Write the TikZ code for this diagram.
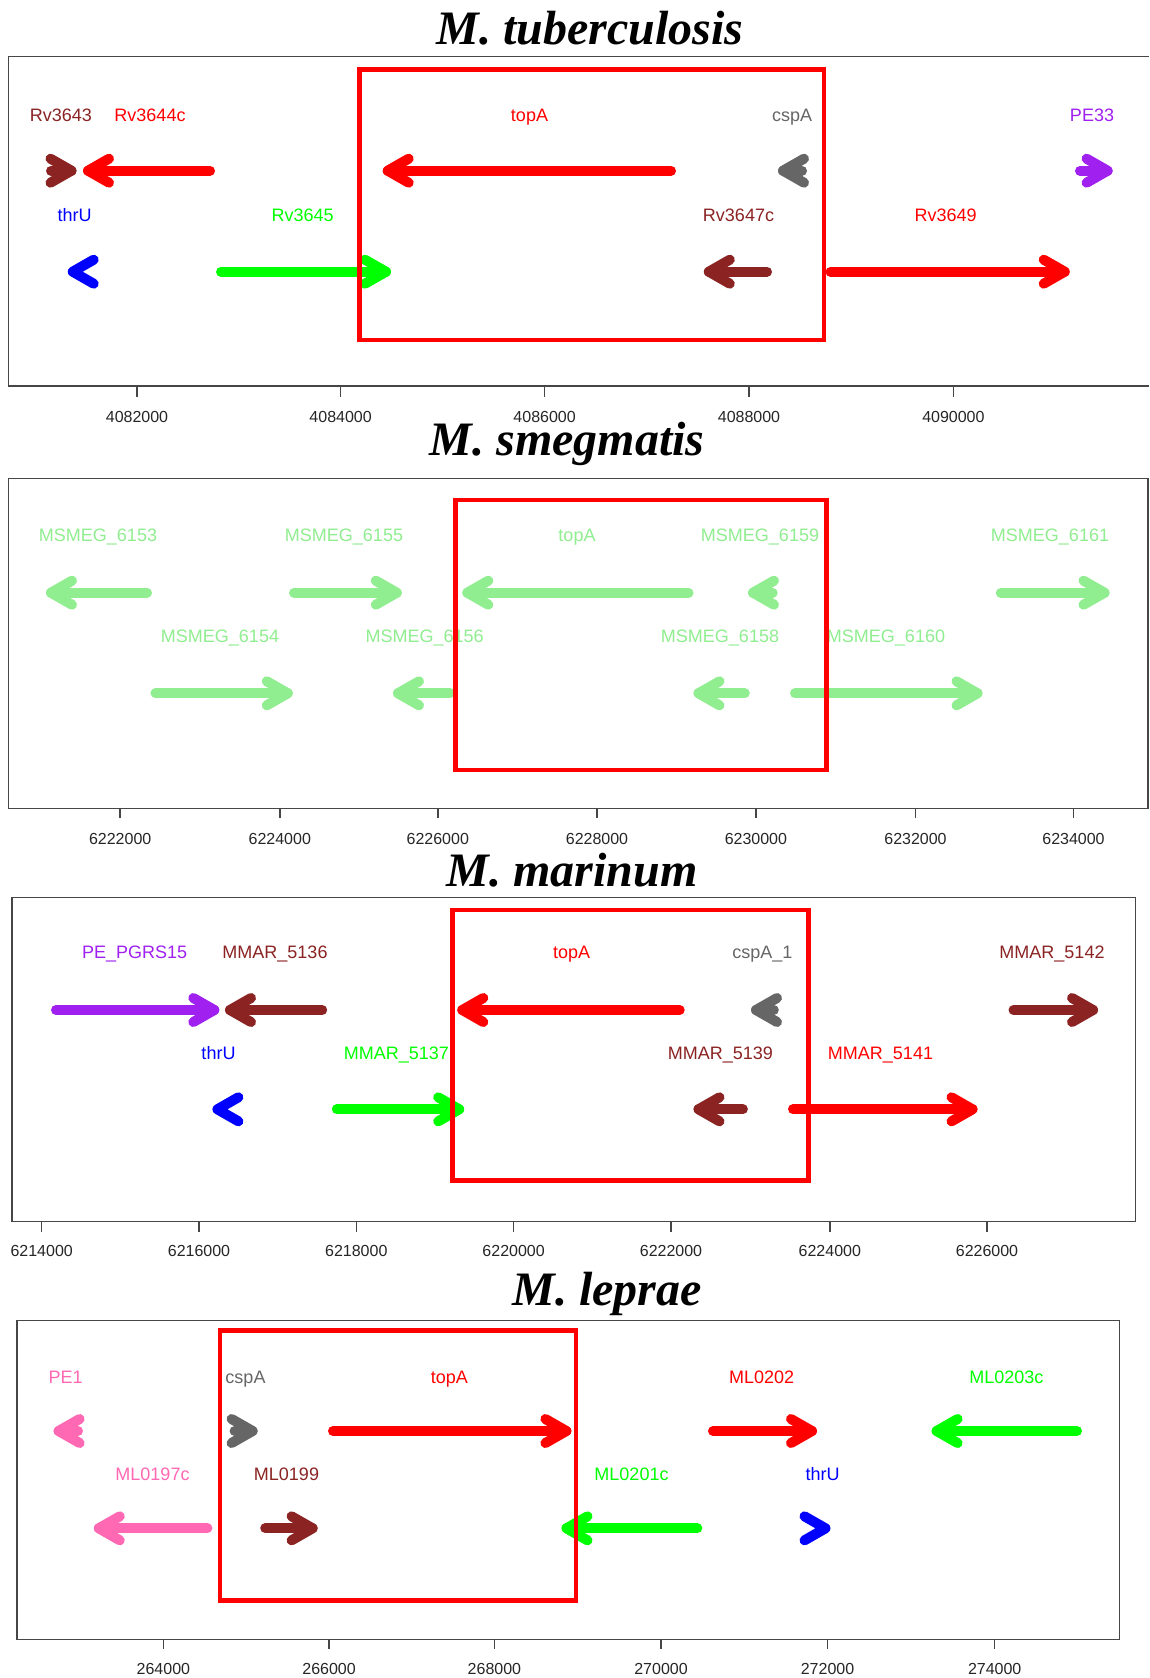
\documentclass[tikz,border=0pt]{standalone}
\usepackage{fontspec}
\newfontfamily\titlefont{Liberation Serif}
\newfontfamily\labfont{Liberation Sans}
\definecolor{gred}{RGB}{255,0,0}
\definecolor{ggreen}{RGB}{0,255,0}
\definecolor{gblue}{RGB}{0,0,255}
\definecolor{gbrown}{RGB}{139,35,35}
\definecolor{ggrey}{RGB}{102,102,102}
\definecolor{gpurple}{RGB}{160,32,240}
\definecolor{glight}{RGB}{144,238,144}
\definecolor{gpink}{RGB}{255,105,180}
\definecolor{framecol}{RGB}{70,70,70}
\tikzset{
  genearrow/.style={line width=10pt, line cap=round, line join=round},
  lab/.style={inner sep=0pt, anchor=base, font=\labfont\fontsize{18}{20}\selectfont},
  ticklab/.style={inner sep=0pt, anchor=base, font=\labfont\fontsize{16}{18}\selectfont, text=black!85},
  ttl/.style={inner sep=0pt, anchor=base, font=\titlefont\bfseries\itshape\fontsize{48}{52}\selectfont},
  framebox/.style={draw=framecol, line width=1.5pt},
  tickmark/.style={draw=framecol, line width=1.5pt},
  redbox/.style={draw=gred, line width=4.5pt, line join=miter}
}
% gene arrow: tail x, tip x, y, colour
\newcommand\gene[4]{%
  \pgfmathsetmacro\dd{ifthenelse(#2>#1,1,-1)}%
  \pgfmathsetmacro\tipT{#2-5*\dd}%
  \pgfmathsetmacro\tailS{#1+5*\dd}%
  \pgfmathsetmacro\backB{\tipT-21*\dd}%
  \draw[genearrow,#4] (\tailS,#3) -- (\tipT,#3);
  \draw[genearrow,#4] (\backB,#3-12) -- (\tipT,#3) -- (\backB,#3+12);
}
% chevron only: back x, tip x, y, colour
\newcommand\chev[4]{%
  \pgfmathsetmacro\dd{ifthenelse(#2>#1,1,-1)}%
  \pgfmathsetmacro\tipT{#2-5*\dd}%
  \pgfmathsetmacro\backB{\tipT-21*\dd}%
  \draw[genearrow,#4] (\backB,#3-12) -- (\tipT,#3) -- (\backB,#3+12);
}
% label: name, x, baseline y, colour, text
\newcommand\glab[5]{\node[lab,text=#4] (#1) at (#2,#3) {#5};}
\begin{document}
\begin{tikzpicture}[x=1pt,y=-1pt]
\useasboundingbox (0,0) rectangle (1149,1678);
\fill[white] (0,0) rectangle (1149,1678);

% ================= Panel 1: M. tuberculosis =================
\node[ttl] (t1) at (590,45) {M. tuberculosis};
\draw[framebox] (1149,56.7) -- (8.4,56.7) -- (8.4,386) -- (1149,386);
\foreach \x/\l in {137/4082000,340.6/4084000,544.6/4086000,749/4088000,953.4/4090000}{
  \draw[tickmark] (\x,386) -- (\x,396.7);
  \node[ticklab] (a1-\l) at (\x,422.7) {\l};
}
\gene{46}{76.5}{170.7}{gbrown}
\gene{215}{83}{170.7}{gred}
\gene{676}{382.7}{170.7}{gred}
\gene{807}{778}{170.7}{ggrey}
\gene{1075}{1112.6}{170.7}{gpurple}
\chev{96.8}{67.7}{271.7}{gblue}
\gene{216}{391}{271.7}{ggreen}
\gene{772}{703.8}{271.7}{gbrown}
\gene{825.5}{1069.7}{271.7}{gred}
\glab{l1a}{61}{121.7}{gbrown}{Rv3643}
\glab{l1b}{150}{121.7}{gred}{Rv3644c}
\glab{l1c}{529.5}{121.7}{gred}{topA}
\glab{l1d}{792}{121.7}{ggrey}{cspA}
\glab{l1e}{1092}{121.7}{gpurple}{PE33}
\glab{l1f}{74.6}{221.7}{gblue}{thrU}
\glab{l1g}{302.7}{221.7}{ggreen}{Rv3645}
\glab{l1h}{738.5}{221.7}{gbrown}{Rv3647c}
\glab{l1i}{945.7}{221.7}{gred}{Rv3649}
\draw[redbox] (359.7,69.3) rectangle (824,340);

% ================= Panel 2: M. smegmatis =================
\node[ttl] (t2) at (567,455) {M. smegmatis};
\draw[framebox] (8.4,478.3) rectangle (1147.8,808.3);
\foreach \x/\l in {120.2/6222000,279.8/6224000,437.8/6226000,597/6228000,755.9/6230000,915.5/6232000,1073.5/6234000}{
  \draw[tickmark] (\x,808.3) -- (\x,818.3);
  \node[ticklab] (a2-\l) at (\x,844) {\l};
}
\gene{152}{46}{592.7}{glight}
\gene{289}{401.8}{592.7}{glight}
\gene{693.5}{462.3}{592.7}{glight}
\gene{777.7}{748}{592.7}{glight}
\gene{995.8}{1109.5}{592.7}{glight}
\gene{150.4}{292.8}{693.3}{glight}
\gene{455}{393}{693.3}{glight}
\gene{749.8}{693.5}{693.3}{glight}
\gene{790}{982.5}{693.3}{glight}
\glab{l2a}{98}{541.7}{glight}{MSMEG\_6153}
\glab{l2b}{344}{541.7}{glight}{MSMEG\_6155}
\glab{l2c}{577}{541.7}{glight}{topA}
\glab{l2d}{760}{541.7}{glight}{MSMEG\_6159}
\glab{l2e}{1050}{541.7}{glight}{MSMEG\_6161}
\glab{l2f}{220}{642.7}{glight}{MSMEG\_6154}
\glab{l2g}{424.6}{642.7}{glight}{MSMEG\_6156}
\glab{l2h}{720}{642.7}{glight}{MSMEG\_6158}
\glab{l2i}{886}{642.7}{glight}{MSMEG\_6160}
\draw[redbox] (455.4,500) rectangle (826.3,770);

% ================= Panel 3: M. marinum =================
\node[ttl] (t3) at (572,886.7) {M. marinum};
\draw[framebox] (12.2,897.3) rectangle (1135.5,1221.7);
\foreach \x/\l in {41.7/6214000,199/6216000,356.3/6218000,513.6/6220000,671/6222000,829.8/6224000,987/6226000}{
  \draw[tickmark] (\x,1221.7) -- (\x,1232.3);
  \node[ticklab] (a3-\l) at (\x,1256.7) {\l};
}
\gene{51}{219.3}{1010}{gpurple}
\gene{327.2}{225}{1010}{gbrown}
\gene{684.7}{457.3}{1010}{gred}
\gene{778.8}{751}{1010}{ggrey}
\gene{1008.5}{1098}{1010}{gbrown}
\chev{240}{212.4}{1109.3}{gblue}
\gene{331.8}{464.2}{1109.3}{ggreen}
\gene{747.9}{693.5}{1109.3}{gbrown}
\gene{788}{977.5}{1109.3}{gred}
\glab{l3a}{134.7}{958.3}{gpurple}{PE\_PGRS15}
\glab{l3b}{275}{958.3}{gbrown}{MMAR\_5136}
\glab{l3c}{571.6}{958.3}{gred}{topA}
\glab{l3d}{762.4}{958.3}{ggrey}{cspA\_1}
\glab{l3e}{1052}{958.3}{gbrown}{MMAR\_5142}
\glab{l3f}{218.5}{1059.3}{gblue}{thrU}
\glab{l3g}{396.4}{1059.3}{ggreen}{MMAR\_5137}
\glab{l3h}{720.3}{1059.3}{gbrown}{MMAR\_5139}
\glab{l3i}{880.5}{1059.3}{gred}{MMAR\_5141}
\draw[redbox] (452.7,910) rectangle (808.3,1180.7);

% ================= Panel 4: M. leprae =================
\node[ttl] (t4) at (607,1305) {M. leprae};
\draw[framebox] (16.8,1320.7) rectangle (1119.5,1639.3);
\foreach \x/\l in {163.4/264000,329.1/266000,494.4/268000,661/270000,827.5/272000,994.7/274000}{
  \draw[tickmark] (\x,1639.3) -- (\x,1649.3);
  \node[ticklab] (a4-\l) at (\x,1674) {\l};
}
\gene{83}{53.6}{1431}{gpink}
\gene{229.6}{257.6}{1431}{ggrey}
\gene{328}{571.4}{1431}{gred}
\gene{708}{817}{1431}{gred}
\gene{1082}{931.6}{1431}{ggreen}
\gene{212.4}{93.8}{1528.3}{gpink}
\gene{260.2}{317.6}{1528.3}{gbrown}
\gene{702.3}{561.5}{1528.3}{ggreen}
\chev{802.6}{830.5}{1528.3}{gblue}
\glab{l4a}{65.6}{1383.3}{gpink}{PE1}
\glab{l4b}{245.5}{1383.3}{ggrey}{cspA}
\glab{l4c}{449.3}{1383.3}{gred}{topA}
\glab{l4d}{761.6}{1383.3}{gred}{ML0202}
\glab{l4e}{1006.4}{1383.3}{ggreen}{ML0203c}
\glab{l4f}{152.5}{1480.7}{gpink}{ML0197c}
\glab{l4g}{286.5}{1480.7}{gbrown}{ML0199}
\glab{l4h}{631.5}{1480.7}{ggreen}{ML0201c}
\glab{l4i}{822.7}{1480.7}{gblue}{thrU}
\draw[redbox] (220,1330.7) rectangle (576,1600.7);
\end{tikzpicture}
\end{document}
